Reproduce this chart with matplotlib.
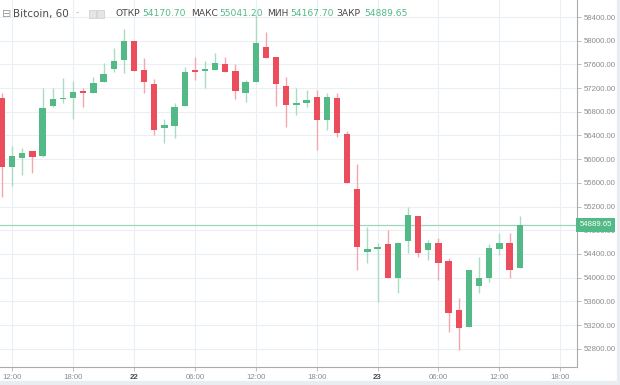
import matplotlib.pyplot as plt
from matplotlib.patches import Rectangle

# hourly candles, hour counted from 21st 00:00
hours = list(range(11, 63))
opens = [57040, 55860, 56020, 56130, 56050, 56890, 57015, 57030, 57145, 57125,
         57310, 57520, 57675, 57995, 57505, 57270, 56525, 56565, 56900, 57500,
         57490, 57505, 57600, 57495, 57122, 57310, 57900, 57720, 57240, 56910,
         56950, 57045, 56660, 57030, 56425, 55490, 54440, 54485, 54560, 53990,
         54620, 55040, 54465, 54580, 54280, 53455, 53170, 53862, 54000, 54485,
         54580, 54170.70]
highs = [57120, 56220, 56190, 56140, 57200, 57200, 57375, 57320, 57200, 57385,
         57620, 57870, 58200, 58000, 57700, 57350, 56675, 56955, 57560, 57730,
         57660, 57790, 57730, 57600, 57340, 58430, 58140, 57725, 57380, 57200,
         57170, 57170, 57110, 57110, 56480, 55920, 54860, 54590, 54805, 54595,
         55200, 55045, 54640, 54665, 54330, 53650, 54135, 54355, 54565, 54750,
         54750, 55041.20]
lows = [55360, 55540, 55730, 55770, 56040, 56880, 56945, 56680, 56880, 57120,
        57300, 57470, 57460, 57490, 57110, 56410, 56280, 56365, 56895, 57340,
        57200, 57500, 57470, 57010, 56970, 57300, 57700, 56900, 56540, 56745,
        56885, 56155, 56495, 56380, 55590, 54130, 54245, 53595, 53995, 53735,
        54410, 54355, 54300, 53960, 53090, 52780, 53165, 53735, 53920, 54385,
        53990, 54167.70]
closes = [55870, 56050, 56100, 56040, 56870, 57010, 57040, 57130, 57125, 57290,
          57440, 57660, 57995, 57495, 57310, 56490, 56575, 56885, 57475, 57478,
          57520, 57630, 57478, 57150, 57298, 57955, 57705, 57265, 56915, 56955,
          56995, 56660, 57045, 56440, 55595, 54515, 54485, 54513, 54000, 54590,
          55058, 54410, 54580, 54243, 53410, 53155, 54130, 53986, 54495, 54580,
          54130, 54889.65]

last_price = 54889.65
yticks = list(range(52800, 58401, 400))
xticks = [12, 18, 24, 30, 36, 42, 48, 54, 60, 66]
xlabels = ['12:00', '18:00', '22', '06:00', '12:00', '18:00', '23', '06:00', '12:00', '18:00']

up, down = '#53b987', '#eb4d5c'
up_w, down_w = '#a9dcc3', '#f5a7b0'

fig = plt.figure(figsize=(6.2, 3.85), dpi=100)
fig.patch.set_facecolor('white')
ax = fig.add_axes([0, 1 - 367 / 385, 577 / 620, 367 / 385])

for h, o, hi, lo, c in zip(hours, opens, highs, lows, closes):
    col = up if c >= o else down
    wcol = up_w if c >= o else down_w
    ax.vlines(h, lo, hi, color=wcol, lw=1.0, zorder=2)
    ax.bar(h, max(abs(c - o), 25), bottom=min(o, c), width=0.62,
           color=col, zorder=3, linewidth=0)

ax.axhline(last_price, color='#9fd6ba', lw=0.9, zorder=1)

ax.set_xlim(10.8, 67.65)
ax.set_ylim(52492, 58687)
ax.yaxis.tick_right()
ax.set_yticks(yticks)
ax.set_yticklabels([f'{v:.2f}' for v in yticks], fontsize=5.6,
                   color='#8c8c8c', family='Liberation Sans')
ax.set_xticks(xticks)
ax.set_xticklabels(xlabels, fontsize=5.6, color='#8c8c8c', family='Liberation Sans')
for lab in ax.get_xticklabels():
    if ':' not in lab.get_text():
        lab.set_fontweight('bold')
        lab.set_color('#4a4a4a')
ax.tick_params(axis='both', length=3, width=0.6, color='#b0b3b8', pad=2)
ax.grid(True, color='#ebeef4', lw=0.8, zorder=0)
ax.set_axisbelow(True)
for s in ['top', 'left']:
    ax.spines[s].set_visible(False)
for s in ['right', 'bottom']:
    ax.spines[s].set_color('#a8abb0')
    ax.spines[s].set_linewidth(0.8)

# last price label on the axis
ax.text(1.004, last_price, f'{last_price:.2f}', transform=ax.get_yaxis_transform(),
        fontsize=5.6, color='white', va='center', ha='left', family='Liberation Sans',
        bbox=dict(boxstyle='square,pad=0.45', fc=up, ec='none'), zorder=5)

# grey strips at the edges
fig.patches.append(Rectangle((0, 0), 1, 4 / 385, transform=fig.transFigure,
                             color='#e9ecf0', zorder=0))
fig.patches.append(Rectangle((617 / 620, 0), 3 / 620, 1, transform=fig.transFigure,
                             color='#e9ecf0', zorder=0))

# header
def px(x, y):
    return x / 620, 1 - y / 385

dark, green = '#4a4a4a', up
fig.text(*px(2, 14), '⊟', fontsize=8, color='#9a9a9a', va='center')
fig.text(*px(13, 14), 'Bitcoin, 60', fontsize=7.5, color=dark, va='center')
fig.text(*px(76, 13), '-', fontsize=6, color='#b0b0b0', va='center')
for x0 in [89, 97]:
    fig.patches.append(Rectangle(px(x0, 18), 7 / 620, 8 / 385,
                                 transform=fig.transFigure, fc='#e3e5e8',
                                 ec='#c8cbd0', lw=0.5))
items = [('ОТКР', 116, dark), ('54170.70', 142, green),
         ('МАКС', 191, dark), ('55041.20', 219, green),
         ('МИН', 267, dark), ('54167.70', 290, green),
         ('ЗАКР', 336, dark), ('54889.65', 364, green)]
for t, x, c in items:
    fig.text(*px(x, 14), t, fontsize=6.6, color=c, va='center')

fig.savefig('out.png', dpi=100)
